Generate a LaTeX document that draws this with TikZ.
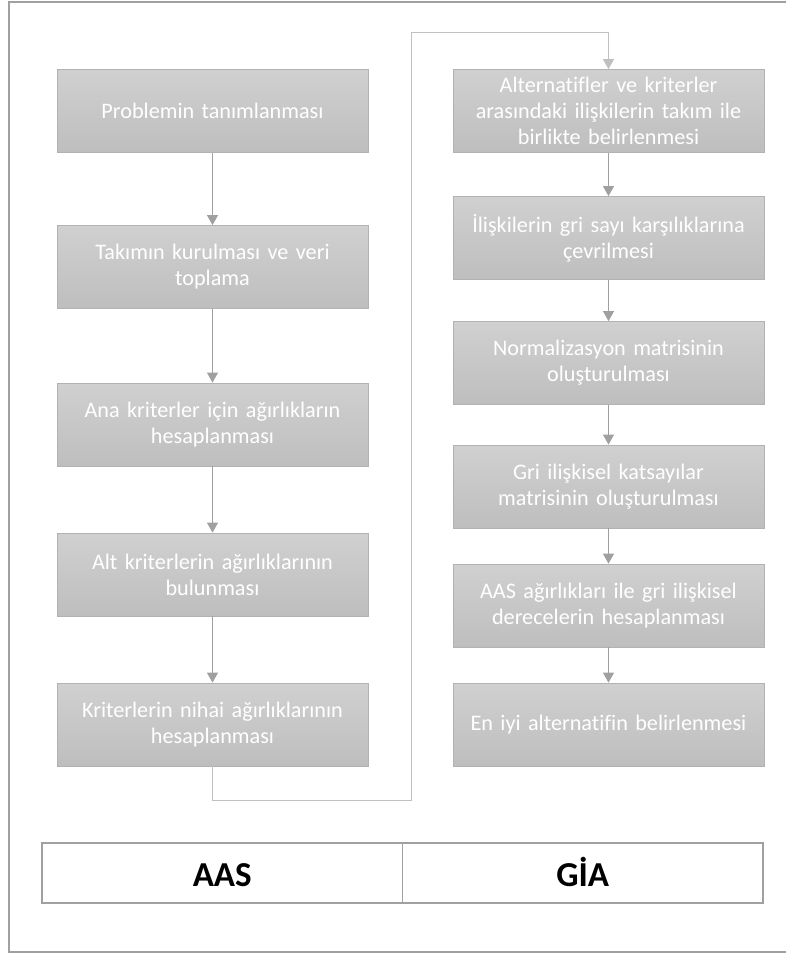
\documentclass[tikz,border=0pt]{standalone}
\usepackage{fontspec}
\setmainfont[Ligatures=NoCommon]{Carlito}
\usepackage{tikz}
\usetikzlibrary{arrows.meta}

\definecolor{boxtop}{RGB}{208,208,208}
\definecolor{boxbot}{RGB}{190,190,190}
\definecolor{boxline}{RGB}{178,178,178}
\definecolor{arrgray}{RGB}{160,160,160}
\definecolor{linkgray}{RGB}{192,192,192}
\definecolor{framegray}{RGB}{160,160,160}

\begin{document}
\begin{tikzpicture}[x=1pt,y=1pt,yscale=-1,
    stepbox/.style={draw=boxline, line width=0.8pt, top color=boxtop, bottom color=boxbot,
      minimum width=311pt, minimum height=83pt, text width=305pt, align=center,
      text=white, inner sep=0pt, font=\fontsize{22.2}{26}\selectfont},
    arr/.style={draw=arrgray, line width=1pt, -{Triangle[width=11pt,length=10pt]}},
    link/.style={draw=linkgray, line width=1pt, -{Triangle[width=11pt,length=10pt]}},
    tag/.style={draw=framegray, line width=1.5pt, minimum width=360.5pt, minimum height=60pt,
      inner sep=0pt, text height=26pt, text depth=0pt, font=\fontsize{35}{40}\selectfont\bfseries}]

    \useasboundingbox (0,0) rectangle (786,954);
    % frame, open on the right
    \draw[framegray, line width=1.5pt] (786,2) -- (9,2) -- (9,952) -- (786,952);

    % AAS steps
    \node[stepbox] (l1) at (212.5,111)   {Problemin tanımlanması};
    \node[stepbox] (l2) at (212.5,267)   {Takımın kurulması ve veri\\toplama};
    \node[stepbox] (l3) at (212.5,424.5) {Ana kriterler için ağırlıkların\\hesaplanması};
    \node[stepbox] (l4) at (212.5,574.5) {Alt kriterlerin ağırlıklarının\\bulunması};
    \node[stepbox] (l5) at (212.5,724.5) {Kriterlerin nihai ağırlıklarının\\hesaplanması};

    % GIA steps
    \node[stepbox] (r1) at (608.5,111)   {Alternatifler ve kriterler\\arasındaki ilişkilerin takım ile\\birlikte belirlenmesi};
    \node[stepbox] (r2) at (608.5,238)   {İlişkilerin gri sayı karşılıklarına\\çevrilmesi};
    \node[stepbox] (r3) at (608.5,363)   {Normalizasyon matrisinin\\oluşturulması};
    \node[stepbox] (r4) at (608.5,486.5) {Gri ilişkisel katsayılar\\matrisinin oluşturulması};
    \node[stepbox] (r5) at (608.5,605.5) {AAS ağırlıkları ile gri ilişkisel\\derecelerin hesaplanması};
    \node[stepbox] (r6) at (608.5,724.5) {En iyi alternatifin belirlenmesi};

    \draw[arr] (l1) -- (l2);
    \draw[arr] (l2) -- (l3);
    \draw[arr] (l3) -- (l4);
    \draw[arr] (l4) -- (l5);
    \draw[arr] (r1) -- (r2);
    \draw[arr] (r2) -- (r3);
    \draw[arr] (r3) -- (r4);
    \draw[arr] (r4) -- (r5);
    \draw[arr] (r5) -- (r6);

    % AAS -> GIA
    \coordinate (up) at (411,32);
    \draw[link] (l5.south) -- ++(0,34) -| (up) -| (r1.north);

    % method table
    \node[tag] (aas) at (222.25,873) {AAS};
    \node[tag] (gia) at (582.75,873) {GİA};

\end{tikzpicture}
\end{document}
